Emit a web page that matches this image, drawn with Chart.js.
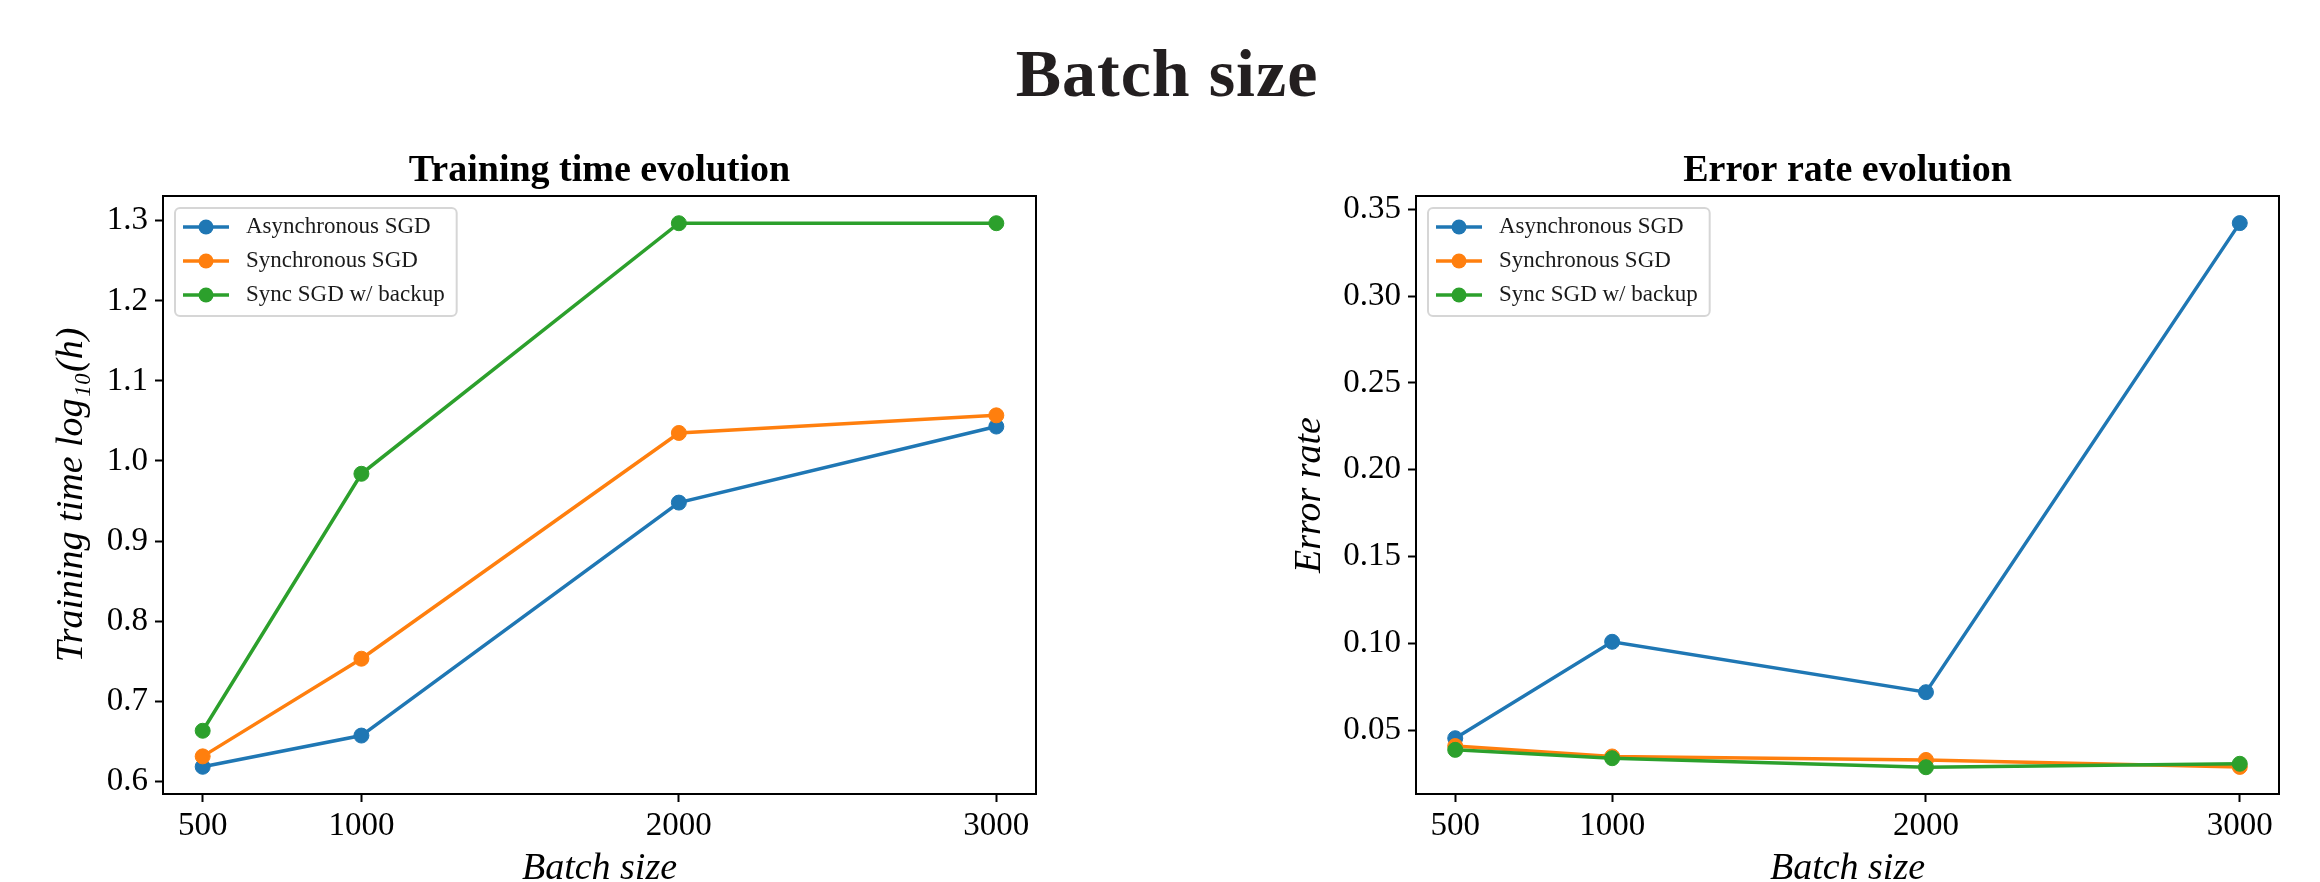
<!DOCTYPE html>
<html>
<head>
<meta charset="utf-8">
<script src="https://cdn.jsdelivr.net/npm/chart.js@4.4.1/dist/chart.umd.min.js"></script>
<style>
  html, body { margin: 0; padding: 0; background: #fff; width: 2320px; height: 882px; overflow: hidden; position: relative; }
  #mainTitle { position: absolute; left: 0; top: 39px; width: 2320px; padding-left: 14px; box-sizing: border-box;
    text-align: center; font: bold 68px/68px 'Liberation Serif', 'Times New Roman', serif; letter-spacing: 1px; color: #231f20; }
  .wrap { position: absolute; top: 120px; width: 1160px; height: 800px; }
  canvas { display: block; }
</style>
</head>
<body>
<div id="mainTitle">Batch size</div>
<div class="wrap" style="left:0px"><canvas id="c1" width="1160" height="800"></canvas></div>
<div class="wrap" style="left:1160px"><canvas id="c2" width="1160" height="800"></canvas></div>
<script>
// ---------------- data ----------------
const batchSizes = [500, 1000, 2000, 3000];
const seriesNames = ['Asynchronous SGD', 'Synchronous SGD', 'Sync SGD w/ backup'];
const seriesColors = ['#1f77b4', '#ff7f0e', '#2ca02c'];

const timeAsync  = [0.618, 0.657, 0.948, 1.043];
const timeSync   = [0.631, 0.753, 1.035, 1.057];
const timeBackup = [0.663, 0.984, 1.297, 1.297];

const errAsync  = [0.0455, 0.101, 0.072, 0.342];
const errSync   = [0.041, 0.035, 0.033, 0.029];
const errBackup = [0.0388, 0.034, 0.0288, 0.0308];

const xTicks    = [500, 1000, 2000, 3000];
const timeTicks = [0.6, 0.7, 0.8, 0.9, 1.0, 1.1, 1.2, 1.3];
const errTicks  = [0.05, 0.10, 0.15, 0.20, 0.25, 0.30, 0.35];

// ---------------- styling ----------------
const FONT = "'Liberation Serif', 'Times New Roman', serif";
Chart.defaults.font.family = FONT;
Chart.defaults.color = '#000';

function roundRectPath(ctx, x, y, w, h, r) {
  ctx.beginPath();
  ctx.moveTo(x + r, y);
  ctx.lineTo(x + w - r, y);
  ctx.arcTo(x + w, y, x + w, y + r, r);
  ctx.lineTo(x + w, y + h - r);
  ctx.arcTo(x + w, y + h, x + w - r, y + h, r);
  ctx.lineTo(x + r, y + h);
  ctx.arcTo(x, y + h, x, y + h - r, r);
  ctx.lineTo(x, y + r);
  ctx.arcTo(x, y, x + r, y, r);
  ctx.closePath();
}

const framePlugin = {
  id: 'frame',
  afterDatasetsDraw(chart) {
    const { ctx, chartArea: a } = chart;
    ctx.save();
    ctx.strokeStyle = '#000';
    ctx.lineWidth = 2;
    ctx.strokeRect(a.left, a.top, a.right - a.left, a.bottom - a.top);
    ctx.restore();
  }
};

const legendPlugin = {
  id: 'mplLegend',
  afterDraw(chart) {
    const { ctx, chartArea: a } = chart;
    const ds = chart.data.datasets;
    ctx.save();
    ctx.font = '23px ' + FONT;
    const tw = Math.max(...ds.map(d => ctx.measureText(d.label).width));
    const x0 = a.left + 12, y0 = a.top + 12;
    const w = 71 + tw + 12, h = 108;
    roundRectPath(ctx, x0, y0, w, h, 5);
    ctx.fillStyle = 'rgba(255,255,255,0.8)';
    ctx.fill();
    ctx.strokeStyle = 'rgba(204,204,204,0.8)';
    ctx.lineWidth = 2;
    ctx.stroke();
    ds.forEach((d, i) => {
      const cy = y0 + 19 + i * 34;
      ctx.strokeStyle = d.borderColor;
      ctx.lineWidth = 3.5;
      ctx.beginPath(); ctx.moveTo(x0 + 8, cy); ctx.lineTo(x0 + 54, cy); ctx.stroke();
      ctx.fillStyle = d.borderColor;
      ctx.beginPath(); ctx.arc(x0 + 31, cy, 7.5, 0, Math.PI * 2); ctx.fill();
      ctx.fillStyle = '#1a1a1a';
      ctx.textBaseline = 'middle';
      ctx.textAlign = 'left';
      ctx.fillText(d.label, x0 + 71, cy);
    });
    ctx.restore();
  }
};

function buildChart(id, cfg) {
  return new Chart(document.getElementById(id), {
    type: 'line',
    data: {
      datasets: cfg.series.map((vals, i) => ({
        label: seriesNames[i],
        data: batchSizes.map((b, j) => ({ x: b, y: vals[j] })),
        borderColor: seriesColors[i],
        backgroundColor: seriesColors[i],
        pointBackgroundColor: seriesColors[i],
        pointBorderColor: seriesColors[i],
        pointRadius: 7.5,
        pointBorderWidth: 1,
        borderWidth: 3.5,
        tension: 0,
        order: 3 - i
      }))
    },
    options: {
      responsive: false,
      animation: false,
      devicePixelRatio: 1,
      layout: { padding: { left: 0, right: cfg.padRight, top: 0, bottom: 0 } },
      plugins: {
        legend: { display: false },
        tooltip: { enabled: false },
        title: {
          display: true, text: cfg.title, fullSize: false, color: '#000',
          font: { size: 38, weight: 'bold', family: FONT, lineHeight: 1.2 },
          padding: { top: 28, bottom: 2.4 }
        }
      },
      scales: {
        x: {
          type: 'linear', position: 'bottom', min: 375, max: 3125,
          afterBuildTicks: s => { s.ticks = xTicks.map(v => ({ value: v })); },
          afterFit: s => { s.height = 126; },
          grid: { drawOnChartArea: false, drawTicks: true, tickLength: 8, tickWidth: 2, tickColor: '#000' },
          border: { display: true, color: '#000', width: 2 },
          ticks: { color: '#000', font: { size: 33, family: FONT }, padding: 5, maxRotation: 0, autoSkip: false,
                   callback: v => String(v) },
          title: { display: true, text: 'Batch size', color: '#000',
                   font: { size: 38, style: 'italic', family: FONT, lineHeight: 1.2 },
                   padding: { top: 0, bottom: 28 } }
        },
        y: {
          type: 'linear', position: 'left', min: cfg.yMin, max: cfg.yMax,
          afterBuildTicks: s => { s.ticks = cfg.yTicks.map(v => ({ value: v })); },
          afterFit: s => { s.width = cfg.yWidth; },
          grid: { drawOnChartArea: false, drawTicks: true, tickLength: 8, tickWidth: 2, tickColor: '#000' },
          border: { display: true, color: '#000', width: 2 },
          ticks: { color: '#000', font: { size: 33, family: FONT }, padding: 7, autoSkip: false,
                   callback: v => v.toFixed(cfg.decimals) },
          title: { display: true, text: cfg.yTitle, color: '#000',
                   font: { size: 38, style: 'italic', family: FONT, lineHeight: 1.2 },
                   padding: { top: cfg.yTitlePad, bottom: 0 } }
        }
      }
    },
    plugins: [framePlugin, legendPlugin]
  });
}

buildChart('c1', {
  title: 'Training time evolution',
  yTitle: 'Training time log\u2081\u2080(h)',
  series: [timeAsync, timeSync, timeBackup],
  yMin: 0.584, yMax: 1.331, yTicks: timeTicks, decimals: 1,
  yWidth: 163, padRight: 124, yTitlePad: 49
});

buildChart('c2', {
  title: 'Error rate evolution',
  yTitle: 'Error rate',
  series: [errAsync, errSync, errBackup],
  yMin: 0.0134, yMax: 0.3576, yTicks: errTicks, decimals: 2,
  yWidth: 256, padRight: 41, yTitlePad: 127
});
</script>
</body>
</html>
